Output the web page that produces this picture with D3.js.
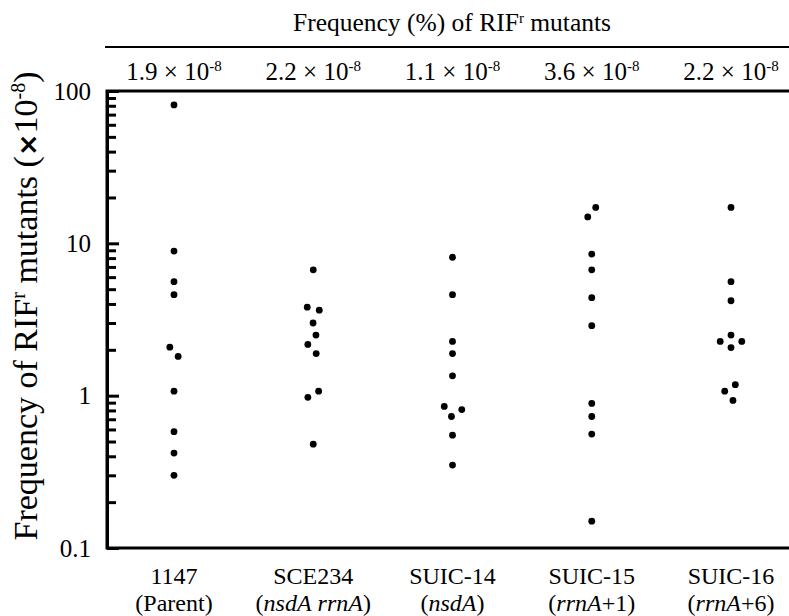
<!DOCTYPE html>
<html>
<head>
<meta charset="utf-8">
<script src="https://cdn.jsdelivr.net/npm/d3@7"></script>
<style>
    body { margin: 0; background: #fff; }
    svg text { font-family: "Liberation Serif", "Times New Roman", serif; fill: #000; }
</style>
</head>
<body>
<div id="chart"></div>
<script>
// Strains and their genotype labels
const strains = ['1147', 'SCE234', 'SUIC-14', 'SUIC-15', 'SUIC-16'];
const genotypes = [
    [['(Parent)', false]],
    [['(', false], ['nsdA', true], [' ', false], ['rrnA', true], [')', false]],
    [['(', false], ['nsdA', true], [')', false]],
    [['(', false], ['rrnA', true], ['+1)', false]],
    [['(', false], ['rrnA', true], ['+6)', false]]
];

// Mean frequency of RIF-resistant mutants (x10^-8)
const meanFreq = ['1.9', '2.2', '1.1', '3.6', '2.2'];

// Individual measurements (x10^-8)
const parent1147 = [81, 8.9, 5.6, 4.6, 2.08, 1.81, 1.07, 0.58, 0.42, 0.30];
const sce234 = [6.7, 3.81, 3.64, 3.0, 2.5, 2.17, 1.89, 1.07, 0.975, 0.48];
const suic14 = [8.1, 4.6, 2.27, 1.89, 1.35, 0.85, 0.81, 0.73, 0.55, 0.35];
const suic15 = [17.2, 14.9, 8.5, 6.7, 4.4, 2.88, 0.89, 0.73, 0.56, 0.15];
const suic16 = [17.2, 5.6, 4.2, 2.5, 2.27, 2.27, 2.07, 1.18, 1.07, 0.93];

const yMajor = [0.1, 1, 10, 100];
const yMinor = [0.2, 0.3, 0.4, 0.5, 0.6, 0.7, 0.8, 0.9,
                2, 3, 4, 5, 6, 7, 8, 9,
                20, 30, 40, 50, 60, 70, 80, 90];

document.addEventListener('DOMContentLoaded', () => {
    const width = 789, height = 616;
    const margin = { top: 91, right: -16, bottom: 68, left: 107 };

    const svg = d3.select('#chart')
        .append('svg')
        .attr('width', width)
        .attr('height', height)
        .attr('font-family', '"Liberation Serif", serif');

    const x = d3.scalePoint()
        .domain(strains)
        .range([174, 731]);

    const y = d3.scaleLog()
        .domain([0.1, 100])
        .range([height - margin.bottom, margin.top]);

    // Header
    const title = svg.append('text')
        .attr('x', 452)
        .attr('y', 31)
        .attr('text-anchor', 'middle')
        .attr('font-size', 25.5);
    title.append('tspan').text('Frequency (%) of RIF');
    title.append('tspan').attr('font-size', 15).attr('dy', -8).text('r');
    title.append('tspan').attr('dy', 8).text(' mutants');

    svg.append('line')
        .attr('x1', 105).attr('x2', width + 20)
        .attr('y1', 47).attr('y2', 47)
        .attr('stroke', '#000')
        .attr('stroke-width', 2);

    const freq = svg.append('g')
        .selectAll('text')
        .data(strains)
        .join('text')
        .attr('x', d => x(d))
        .attr('y', 80)
        .attr('text-anchor', 'middle')
        .attr('font-size', 25);
    freq.append('tspan').text((d, i) => `${meanFreq[i]} \u00d7 10`);
    freq.append('tspan').attr('font-size', 15).attr('dy', -9).text('-8');

    // Plot frame
    svg.append('rect')
        .attr('x', margin.left)
        .attr('y', margin.top)
        .attr('width', width - margin.right - margin.left)
        .attr('height', height - margin.bottom - margin.top)
        .attr('fill', 'none')
        .attr('stroke', '#000')
        .attr('stroke-width', 3);

    // Y axis: inward ticks
    const axisMinor = d3.axisLeft(y)
        .tickValues(yMinor)
        .tickSizeInner(-9)
        .tickSizeOuter(0)
        .tickFormat('');
    const axisMajor = d3.axisLeft(y)
        .tickValues(yMajor)
        .tickSizeInner(-12)
        .tickSizeOuter(0)
        .tickPadding(16)
        .tickFormat(d => d >= 1 ? d3.format('d')(d) : String(d));

    [axisMinor, axisMajor].forEach(ax => {
        const g = svg.append('g')
            .attr('transform', `translate(${margin.left},0)`)
            .call(ax);
        g.select('.domain').attr('stroke-width', 3);
        g.selectAll('.tick line').attr('stroke-width', 3);
        g.selectAll('.tick text')
            .attr('font-size', 25)
            .attr('font-family', '"Liberation Serif", serif')
            .attr('fill', '#000');
    });

    // Y axis title
    const yTitle = svg.append('text')
        .attr('transform', `translate(37,306) rotate(-90)`)
        .attr('text-anchor', 'middle')
        .attr('font-size', 34);
    yTitle.append('tspan').text('Frequency of RIF');
    yTitle.append('tspan').attr('font-size', 20).attr('dy', -12).text('r');
    yTitle.append('tspan').attr('dy', 12).text(' mutants (');
    yTitle.append('tspan').attr('font-family', '"DejaVu Sans", sans-serif').attr('font-weight', 'bold').attr('font-size', 27).text('\u00d7');
    yTitle.append('tspan').text('10');
    yTitle.append('tspan').attr('font-size', 20).attr('dy', -12).text('-8');
    yTitle.append('tspan').attr('dy', 12).text(')');

    // Points, spread horizontally like a beeswarm
    const series = [parent1147, sce234, suic14, suic15, suic16];
    const nodes = [];
    series.forEach((vals, i) => {
        vals.forEach(v => {
            nodes.push({ strain: strains[i], value: v, x: x(strains[i]), fy: y(v) });
        });
    });

    d3.forceSimulation(nodes)
        .force('x', d3.forceX(d => x(d.strain)).strength(0.15))
        .force('collide', d3.forceCollide(6.2).iterations(3))
        .stop()
        .tick(300);

    svg.append('g')
        .selectAll('circle')
        .data(nodes)
        .join('circle')
        .attr('cx', d => d.x)
        .attr('cy', d => d.fy)
        .attr('r', 3.4)
        .attr('fill', '#000');

    // X labels (two lines: strain, genotype)
    const xl = svg.append('g')
        .selectAll('g')
        .data(strains)
        .join('g')
        .attr('transform', d => `translate(${x(d)},0)`);

    xl.append('text')
        .attr('y', 584)
        .attr('text-anchor', 'middle')
        .attr('font-size', 24)
        .text(d => d);

    xl.append('text')
        .attr('y', 611)
        .attr('text-anchor', 'middle')
        .attr('font-size', 24)
        .each(function(d, i) {
            const t = d3.select(this);
            genotypes[i].forEach(([s, it]) => {
                t.append('tspan')
                    .attr('font-style', it ? 'italic' : 'normal')
                    .text(s);
            });
        });
});
</script>
</body>
</html>
